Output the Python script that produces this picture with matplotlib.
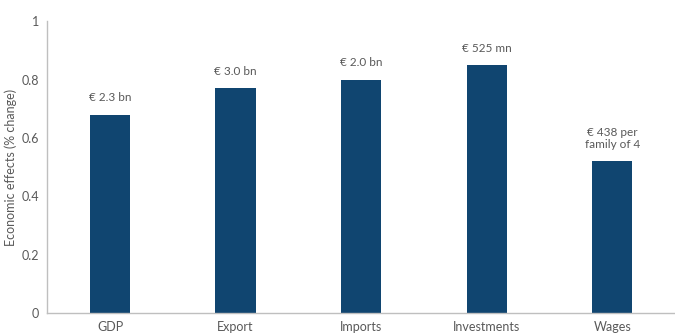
import numpy as np
import matplotlib.pyplot as plt

categories = ["GDP", "Export", "Imports", "Investments", "Wages"]
values = [0.68, 0.77, 0.80, 0.85, 0.52]
annotations = ["€ 2.3 bn", "€ 3.0 bn", "€ 2.0 bn", "€ 525 mn", "€ 438 per\nfamily of 4"]
yticks = [0, 0.2, 0.4, 0.6, 0.8, 1]
ytick_labels = ["0", "0.2", "0.4", "0.6", "0.8", "1"]

plt.rcParams["font.family"] = ["Lato", "DejaVu Sans"]
text_color = "#595959"

fig = plt.figure(figsize=(6.75, 3.36), dpi=100)
ax = fig.add_axes([0.07, 0.068, 0.93, 0.869])

x = np.arange(len(categories))
ax.bar(x, values, width=0.32, color="#104570")

for xi, v, a in zip(x, values, annotations):
    ax.annotate(a, (xi, v), xytext=(0, 8), textcoords="offset points",
                ha="center", va="bottom", fontsize=8.5, color=text_color,
                linespacing=1.15)

ax.set_xlim(-0.5, len(categories) - 0.5)
ax.set_ylim(0, 1)
ax.set_yticks(yticks)
ax.set_yticklabels(ytick_labels)
ax.set_xticks(x)
ax.set_xticklabels(categories)
ax.tick_params(length=0, labelsize=9, colors=text_color, pad=6)
ax.set_ylabel("Economic effects (% change)", fontsize=9, color=text_color, labelpad=3)

for s in ["top", "right"]:
    ax.spines[s].set_visible(False)
for s in ["left", "bottom"]:
    ax.spines[s].set_color("#BFBFBF")
    ax.spines[s].set_linewidth(1)

fig.savefig("out.png", dpi=100)
